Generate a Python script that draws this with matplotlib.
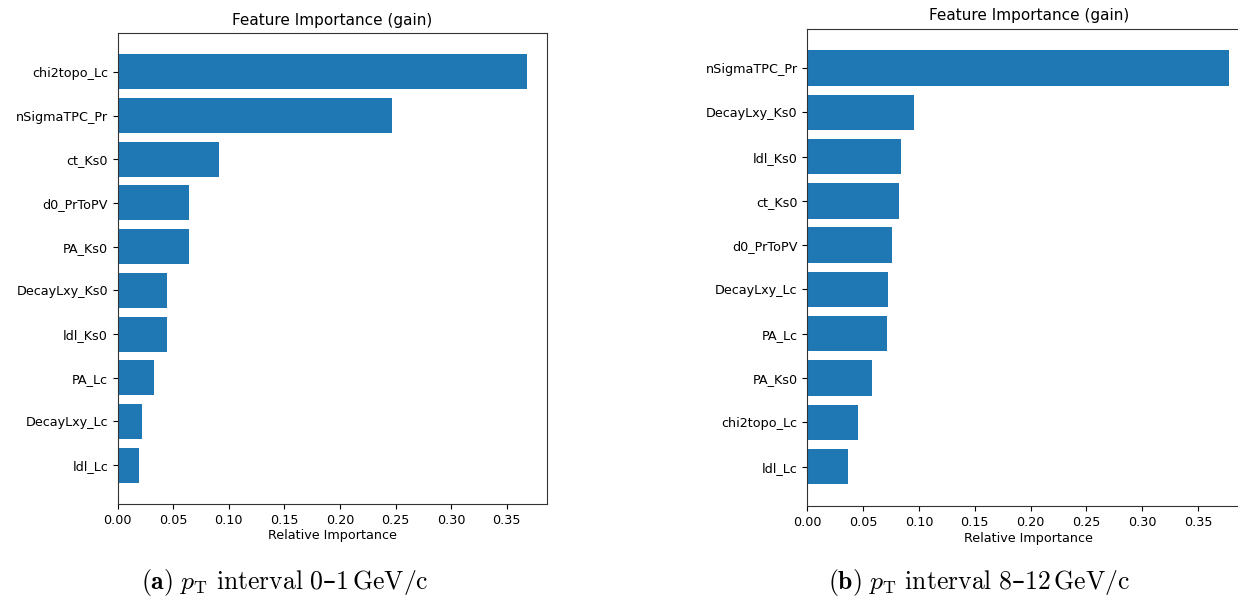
import numpy as np
import matplotlib.pyplot as plt

plt.rcParams['mathtext.fontset'] = 'cm'

# gain-based feature importance, listed from most to least important
features_lo = ['chi2topo_Lc', 'nSigmaTPC_Pr', 'ct_Ks0', 'd0_PrToPV', 'PA_Ks0',
               'DecayLxy_Ks0', 'ldl_Ks0', 'PA_Lc', 'DecayLxy_Lc', 'ldl_Lc']
gain_lo = [0.368, 0.247, 0.0914, 0.0644, 0.0641,
           0.0447, 0.0444, 0.0325, 0.0222, 0.0193]

features_hi = ['nSigmaTPC_Pr', 'DecayLxy_Ks0', 'ldl_Ks0', 'ct_Ks0', 'd0_PrToPV',
               'DecayLxy_Lc', 'PA_Lc', 'PA_Ks0', 'chi2topo_Lc', 'ldl_Lc']
gain_hi = [0.3776, 0.0958, 0.0839, 0.0817, 0.0758,
           0.0723, 0.0717, 0.0579, 0.0451, 0.0366]

captions = [r'$\mathbf{(a)}\ p_{\mathrm{T}}\ \mathrm{interval}\ 0$' + '\u2013' + r'$1\,\mathrm{GeV/c}$',
            r'$\mathbf{(b)}\ p_{\mathrm{T}}\ \mathrm{interval}\ 8$' + '\u2013' + r'$12\,\mathrm{GeV/c}$']

fig = plt.figure(figsize=(12.38, 5.98), dpi=100)
ax1 = fig.add_axes([0.0951, 0.1572, 0.3468, 0.7876])
ax2 = fig.add_axes([0.6521, 0.1538, 0.3576, 0.7985])


def plot_importance(ax, names, vals):
    y = np.arange(len(names))[::-1]
    ax.barh(y, vals, height=0.8, color='#1f77b4')
    ax.set_yticks(y)
    ax.set_yticklabels(names, fontsize=9.2)
    ax.tick_params(axis='x', labelsize=9.2)
    ax.set_xticks(np.arange(0, 0.36, 0.05))
    ax.set_xlabel('Relative Importance', fontsize=9.2, labelpad=2)
    ax.set_title('Feature Importance (gain)', fontsize=11)
    for s in ax.spines.values():
        s.set_color('#333333')


plot_importance(ax1, features_lo, gain_lo)
plot_importance(ax2, features_hi, gain_hi)

fig.text(0.230, 0.026, captions[0], fontsize=18.5, ha='center', va='center')
fig.text(0.791, 0.026, captions[1], fontsize=18.5, ha='center', va='center')

fig.savefig('out.png', dpi=100)
